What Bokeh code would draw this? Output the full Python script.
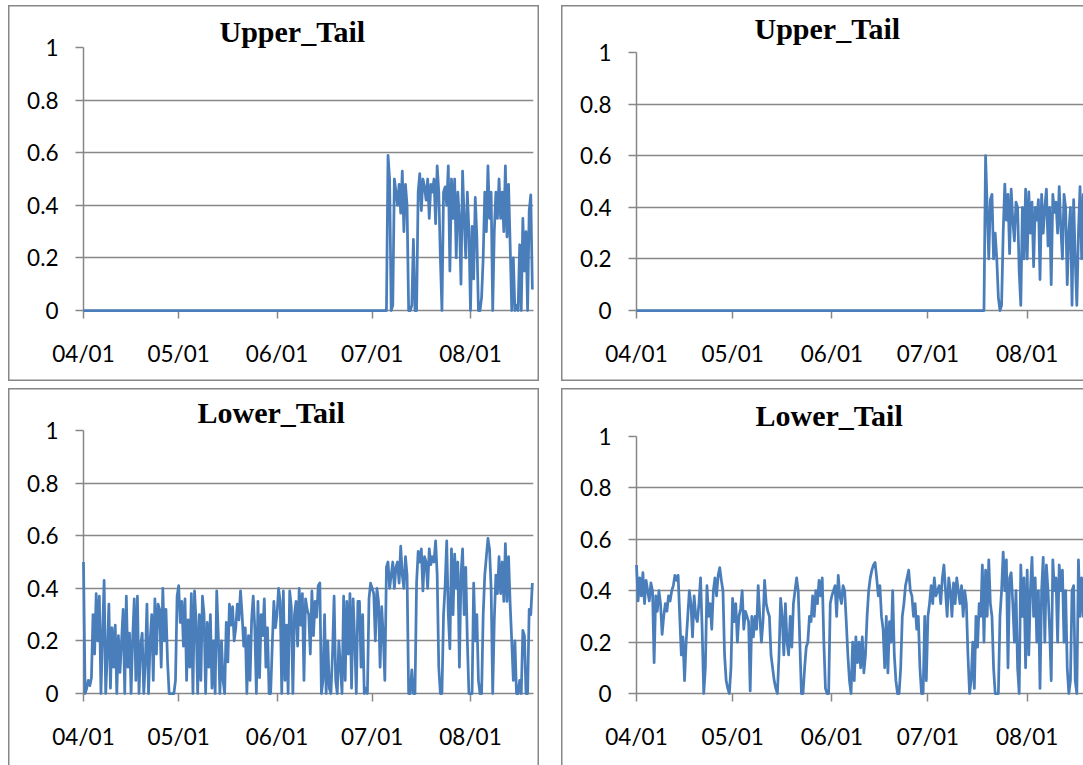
import pandas as pd
from bokeh.plotting import figure
from bokeh.layouts import column, row
from bokeh.models import (Range1d, FixedTicker, DatetimeTickFormatter,
                          NumeralTickFormatter, Spacer)
from bokeh.embed import file_html
from bokeh.resources import INLINE

# ---------------- data ----------------
BASE_DATE = "2011-04-01"
MONTH_TICKS = ["2011-04-01", "2011-05-01", "2011-06-01", "2011-07-01", "2011-08-01"]
Y_TICKS = [0, 0.2, 0.4, 0.6, 0.8, 1.0]
TITLES = ["Upper_Tail", "Upper_Tail", "Lower_Tail", "Lower_Tail"]
STEP = "12h"

# Upper tail (left): zero from 04/01, active part starts at this date (12h steps)
upper_left_start = "2011-07-05 12:00"
upper_left = [
    0.00,
    0.59, 0.50, 0.00, 0.02, 0.50, 0.45, 0.40, 0.48, 0.37, 0.53,
    0.30, 0.48, 0.40, 0.00, 0.00, 0.02, 0.27, 0.00, 0.00, 0.45,
    0.52, 0.38, 0.50, 0.47, 0.42, 0.50, 0.35, 0.48, 0.45, 0.50,
    0.33, 0.55, 0.45, 0.20, 0.00, 0.45, 0.47, 0.40, 0.55, 0.15,
    0.50, 0.35, 0.50, 0.20, 0.45, 0.35, 0.10, 0.53, 0.35, 0.20,
    0.45, 0.30, 0.00, 0.32, 0.12, 0.43, 0.28, 0.00, 0.00, 0.05,
    0.20, 0.45, 0.30, 0.55, 0.35, 0.45, 0.00, 0.30, 0.45, 0.35,
    0.50, 0.35, 0.45, 0.30, 0.55, 0.28, 0.48, 0.25, 0.00, 0.20,
    0.00, 0.02, 0.00, 0.25, 0.00, 0.35, 0.15, 0.30, 0.00, 0.38,
    0.44, 0.08,
]

# Upper tail (right)
upper_right_start = "2011-07-18 12:00"
upper_right = [
    0.00,
    0.60, 0.40, 0.20, 0.43, 0.45, 0.20, 0.30, 0.20, 0.05, 0.00,
    0.02, 0.30, 0.49, 0.35, 0.45, 0.22, 0.47, 0.35, 0.27, 0.42,
    0.40, 0.15, 0.02, 0.40, 0.20, 0.47, 0.20, 0.46, 0.30, 0.42,
    0.17, 0.40, 0.35, 0.43, 0.12, 0.45, 0.30, 0.40, 0.47, 0.25,
    0.40, 0.10, 0.45, 0.38, 0.42, 0.30, 0.48, 0.32, 0.20, 0.45,
    0.40, 0.10, 0.30, 0.40, 0.02, 0.43, 0.20, 0.02, 0.30, 0.48,
    0.20, 0.45, 0.40, 0.30, 0.35, 0.42,
]

# Lower tail (left), from 04/01 in 12h steps
lower_left = [
    0.50, 0.00, 0.02, 0.05, 0.03, 0.06, 0.30, 0.15, 0.38, 0.20,
    0.37, 0.00, 0.22, 0.43, 0.00, 0.15, 0.34, 0.02, 0.25, 0.10,
    0.26, 0.00, 0.22, 0.08, 0.20, 0.32, 0.00, 0.37, 0.10, 0.23,
    0.00, 0.21, 0.36, 0.05, 0.37, 0.00, 0.18, 0.23, 0.00, 0.12,
    0.34, 0.00, 0.20, 0.30, 0.05, 0.36, 0.15, 0.34, 0.32, 0.10,
    0.40, 0.20, 0.32, 0.12, 0.00, 0.00, 0.00, 0.00, 0.05, 0.37,
    0.41, 0.27, 0.35, 0.18, 0.36, 0.05, 0.28, 0.10, 0.38, 0.00,
    0.39, 0.27, 0.00, 0.30, 0.05, 0.37, 0.30, 0.00, 0.27, 0.10,
    0.30, 0.02, 0.20, 0.00, 0.39, 0.22, 0.00, 0.20, 0.05, 0.00,
    0.27, 0.12, 0.34, 0.26, 0.33, 0.20, 0.25, 0.34, 0.28, 0.39,
    0.30, 0.18, 0.25, 0.00, 0.22, 0.05, 0.28, 0.37, 0.25, 0.00,
    0.35, 0.06, 0.30, 0.22, 0.36, 0.10, 0.25, 0.00, 0.00, 0.18,
    0.35, 0.25, 0.30, 0.40, 0.35, 0.00, 0.39, 0.05, 0.26, 0.00,
    0.39, 0.33, 0.00, 0.30, 0.35, 0.18, 0.40, 0.26, 0.38, 0.05,
    0.36, 0.32, 0.30, 0.15, 0.39, 0.22, 0.35, 0.29, 0.41, 0.42,
    0.00, 0.05, 0.30, 0.00, 0.20, 0.02, 0.00, 0.15, 0.37, 0.05,
    0.00, 0.20, 0.10, 0.00, 0.37, 0.05, 0.35, 0.15, 0.38, 0.02,
    0.36, 0.20, 0.00, 0.35, 0.35, 0.10, 0.30, 0.00, 0.02, 0.00,
    0.36, 0.42, 0.40, 0.38, 0.20, 0.40, 0.35, 0.10, 0.33, 0.22,
    0.05, 0.48, 0.50, 0.40, 0.45, 0.50, 0.40, 0.48, 0.50, 0.42,
    0.56, 0.45, 0.40, 0.52, 0.45, 0.00, 0.00, 0.09, 0.00, 0.00,
    0.42, 0.54, 0.50, 0.55, 0.39, 0.52, 0.50, 0.40, 0.55, 0.49,
    0.52, 0.50, 0.58, 0.45, 0.10, 0.00, 0.00, 0.30, 0.41, 0.58,
    0.30, 0.17, 0.55, 0.30, 0.53, 0.40, 0.50, 0.10, 0.45, 0.55,
    0.30, 0.48, 0.20, 0.00, 0.00, 0.00, 0.42, 0.20, 0.30, 0.05,
    0.00, 0.00, 0.30, 0.45, 0.52, 0.59, 0.55, 0.40, 0.00, 0.28,
    0.45, 0.38, 0.52, 0.38, 0.50, 0.35, 0.57, 0.35, 0.52, 0.34,
    0.20, 0.05, 0.20, 0.00, 0.00, 0.05, 0.00, 0.24, 0.22, 0.00,
    0.00, 0.32, 0.30, 0.42,
]

# Lower tail (right), from 04/01 in 12h steps
lower_right = [
    0.50, 0.36, 0.45, 0.38, 0.47, 0.35, 0.44, 0.40, 0.36, 0.43,
    0.40, 0.12, 0.38, 0.32, 0.40, 0.35, 0.23, 0.30, 0.35, 0.32,
    0.38, 0.36, 0.40, 0.42, 0.46, 0.44, 0.46, 0.30, 0.15, 0.22,
    0.05, 0.20, 0.30, 0.40, 0.35, 0.22, 0.38, 0.30, 0.28, 0.35,
    0.45, 0.25, 0.00, 0.10, 0.42, 0.30, 0.35, 0.25, 0.40, 0.45,
    0.38, 0.46, 0.49, 0.44, 0.40, 0.15, 0.05, 0.02, 0.00, 0.10,
    0.37, 0.28, 0.35, 0.20, 0.30, 0.33, 0.40, 0.25, 0.32, 0.30,
    0.28, 0.01, 0.30, 0.22, 0.30, 0.25, 0.42, 0.30, 0.20, 0.28,
    0.44, 0.35, 0.32, 0.30, 0.15, 0.10, 0.05, 0.02, 0.00, 0.15,
    0.37, 0.30, 0.15, 0.35, 0.20, 0.15, 0.30, 0.18, 0.35, 0.40,
    0.45, 0.40, 0.20, 0.00, 0.00, 0.10, 0.18, 0.20, 0.30, 0.28,
    0.38, 0.30, 0.40, 0.35, 0.44, 0.38, 0.45, 0.20, 0.02, 0.00,
    0.00, 0.35, 0.38, 0.40, 0.42, 0.30, 0.46, 0.38, 0.35, 0.42,
    0.40, 0.28, 0.15, 0.05, 0.00, 0.20, 0.05, 0.22, 0.12, 0.20,
    0.10, 0.22, 0.08, 0.15, 0.30, 0.40, 0.45, 0.48, 0.50, 0.51,
    0.45, 0.38, 0.42, 0.30, 0.25, 0.10, 0.30, 0.08, 0.28, 0.20,
    0.40, 0.15, 0.05, 0.00, 0.00, 0.10, 0.30, 0.35, 0.42, 0.45,
    0.48, 0.40, 0.38, 0.30, 0.35, 0.25, 0.30, 0.10, 0.00, 0.00,
    0.30, 0.05, 0.30, 0.35, 0.42, 0.35, 0.45, 0.38, 0.40, 0.42,
    0.35, 0.45, 0.50, 0.40, 0.30, 0.45, 0.40, 0.30, 0.43, 0.35,
    0.45, 0.40, 0.35, 0.42, 0.30, 0.40, 0.35, 0.15, 0.00, 0.05,
    0.20, 0.02, 0.30, 0.18, 0.35, 0.30, 0.50, 0.20, 0.48, 0.30,
    0.52, 0.35, 0.30, 0.10, 0.00, 0.00, 0.00, 0.30, 0.40, 0.55,
    0.40, 0.52, 0.10, 0.45, 0.47, 0.35, 0.20, 0.40, 0.10, 0.00,
    0.50, 0.30, 0.45, 0.10, 0.48, 0.15, 0.40, 0.53, 0.30, 0.45,
    0.20, 0.40, 0.02, 0.40, 0.53, 0.20, 0.50, 0.40, 0.25, 0.05,
    0.52, 0.40, 0.45, 0.20, 0.50, 0.40, 0.48, 0.20, 0.40, 0.10,
    0.00, 0.05, 0.40, 0.42, 0.05, 0.00, 0.52, 0.30, 0.45, 0.30,
    0.40, 0.35, 0.38, 0.30,
]

# ---------------- helpers ----------------
DAY_MS = 86400000.0
GRAY = "#878787"
BLUE = "#4a7ebb"


def ms(ts):
    return pd.Timestamp(ts).value / 1e6


def series(start, values, lead_zero=False):
    xs = list(pd.date_range(start, periods=len(values), freq=STEP))
    ys = list(values)
    if lead_zero:
        xs = [pd.Timestamp(BASE_DATE)] + xs
        ys = [0.0] + ys
    return xs, ys


def panel(title, xs, ys, cw, ch, bl, br, bt, bb, span_days, t_offset, t_pad, sides):
    x0 = ms(BASE_DATE)
    x1 = x0 + span_days * DAY_MS
    p = figure(width=cw, height=ch, output_backend="svg", toolbar_location=None,
               x_range=Range1d(x0, x1), y_range=Range1d(0, 1),
               x_axis_type="datetime",
               min_border_left=bl, min_border_right=br,
               min_border_top=bt, min_border_bottom=bb)
    p.outline_line_color = None
    p.background_fill_color = "white"
    p.border_fill_color = None
    p.xgrid.visible = False
    p.ygrid.grid_line_color = GRAY
    p.ygrid.grid_line_width = 1.5
    p.ygrid.ticker = FixedTicker(ticks=Y_TICKS)

    for ax in (p.xaxis, p.yaxis):
        ax.axis_line_color = GRAY
        ax.axis_line_width = 1.5
        ax.major_tick_line_color = GRAY
        ax.major_tick_line_width = 1.5
        ax.major_tick_out = 8
        ax.major_tick_in = 0
        ax.minor_tick_out = 0
        ax.minor_tick_in = 0
        ax.major_label_text_font = "Lato"
        ax.major_label_text_font_size = "22.5px"
        ax.major_label_text_color = "black"

    p.yaxis.ticker = FixedTicker(ticks=Y_TICKS)
    p.yaxis.formatter = NumeralTickFormatter(format="0.[0]")
    p.yaxis.major_label_standoff = 17

    p.xaxis.ticker = FixedTicker(ticks=[ms(t) for t in MONTH_TICKS])
    fmt = "%m/%d"
    p.xaxis.formatter = DatetimeTickFormatter(
        microseconds=fmt, milliseconds=fmt, seconds=fmt, minsec=fmt,
        minutes=fmt, hourmin=fmt, hours=fmt, days=fmt, months=fmt, years=fmt)
    p.xaxis.major_label_standoff = 21

    r = p.line(xs, ys, line_color=BLUE, line_width=2.75, line_join="round")
    r.level = "overlay"

    p.title.text = title
    p.title.align = "left"
    p.title.offset = t_offset
    p.title.standoff = 0
    p.title.padding = dict(left=0, right=0, top=0, bottom=t_pad)
    p.title.text_font = "Liberation Serif"
    p.title.text_font_style = "bold"
    p.title.text_font_size = "30px"
    p.title.text_color = "black"

    # chart-area border drawn with inset shadows on the visible sides
    shadows = []
    w = "1.5px"
    if "l" in sides:
        shadows.append(f"inset {w} 0 0 0 {GRAY}")
    if "r" in sides:
        shadows.append(f"inset -{w} 0 0 0 {GRAY}")
    if "t" in sides:
        shadows.append(f"inset 0 {w} 0 0 {GRAY}")
    if "b" in sides:
        shadows.append(f"inset 0 -{w} 0 0 {GRAY}")
    p.styles = {"box-shadow": ", ".join(shadows)}
    return p


tl_x, tl_y = series(upper_left_start, upper_left, lead_zero=True)
tr_x, tr_y = series(upper_right_start, upper_right, lead_zero=True)
bl_x, bl_y = series(BASE_DATE, lower_left)
br_x, br_y = series(BASE_DATE, lower_right)

# top-left chart area: page x 8..539, y 5..381
p_tl = panel(TITLES[0], tl_x, tl_y, 531, 376, 75, 6, 42, 71, 141.86, 136, 0, "lrtb")
# top-right chart area: page x 561..1083, y 5..381
p_tr = panel(TITLES[1], tr_x, tr_y, 522, 376, 75, 0, 47, 71, 139.58, 118, 8, "ltb")
# bottom-left chart area: page x 8..539, y 388..765
p_bl = panel(TITLES[2], bl_x, bl_y, 531, 377, 75, 6, 42, 72, 141.86, 114, 2, "lrt")
# bottom-right chart area: page x 561..1083, y 388..765
p_br = panel(TITLES[3], br_x, br_y, 522, 377, 75, 0, 48, 72, 139.58, 119, 5, "lt")

top_row = row(Spacer(width=8, height=376), column(p_tl), Spacer(width=22, height=376), column(p_tr))
bot_row = row(Spacer(width=8, height=377), column(p_bl), Spacer(width=22, height=377), column(p_br))
layout = column(Spacer(width=1083, height=5), top_row, Spacer(width=1083, height=7), bot_row)

with open("out.html", "w") as f:
    f.write(file_html(layout, INLINE))
